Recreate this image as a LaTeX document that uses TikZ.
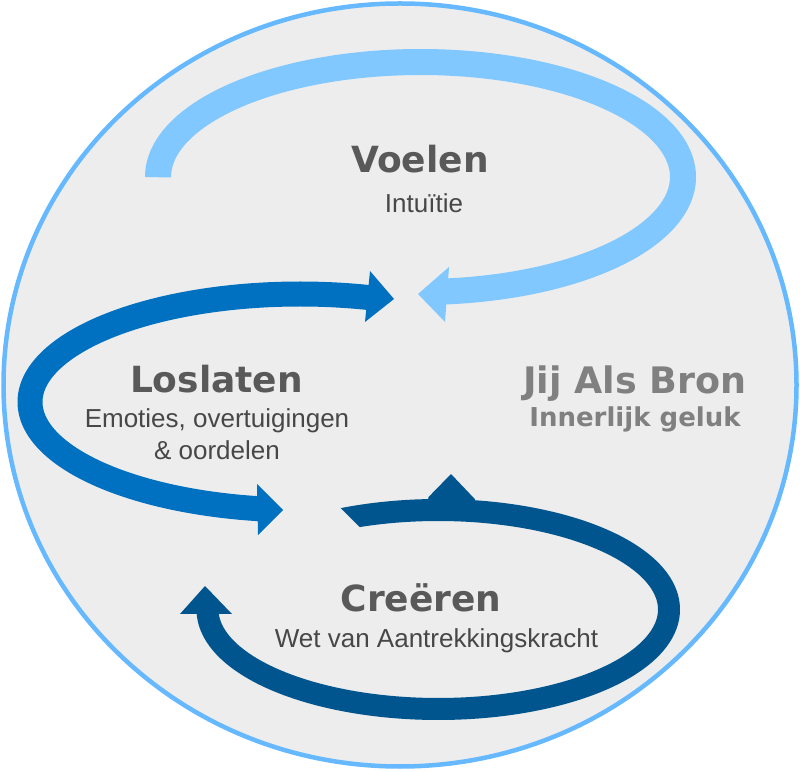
\documentclass[tikz,border=0pt]{standalone}
\usepackage{fontspec}
\setmainfont{Liberation Sans}
\newfontfamily\headfont{DejaVu Sans}
\definecolor{ringc}{HTML}{66B8FF}
\definecolor{fillc}{HTML}{EDEDED}
\definecolor{lightc}{HTML}{80C8FF}
\definecolor{midc}{HTML}{0070C0}
\definecolor{darkc}{HTML}{00558F}
\definecolor{headc}{HTML}{595959}
\definecolor{subc}{HTML}{474747}
\definecolor{srcc}{HTML}{808080}
\tikzset{
  headtext/.style={anchor=base, inner sep=0pt, text=headc, font=\headfont\bfseries\fontsize{36}{40}\selectfont},
  subtext/.style={anchor=base, inner sep=0pt, text=subc, font=\fontsize{26}{30}\selectfont},
  srctext/.style={anchor=base, inner sep=0pt, text=srcc, font=\headfont\bfseries\fontsize{36.5}{40}\selectfont},
  srcsub/.style={anchor=base, inner sep=0pt, text=srcc, font=\headfont\bfseries\fontsize{26}{30}\selectfont},
  lightshaft/.style={lightc, line width=26pt},
  midshaft/.style={midc, line width=25pt},
  darkshaft/.style={darkc, line width=22pt}
}
\begin{document}
\begin{tikzpicture}[x=1pt,y=1pt]
\useasboundingbox (0,0) rectangle (800,771);
% outer ring
\draw[ringc, line width=4.5pt, fill=fillc] (400,386) ellipse [x radius=396.5pt, y radius=381.5pt];

% light blue arrow (Voelen)
\draw[lightshaft] (158,598) -- plot[domain=180:-86.5, samples=160, variable=\t] ({420.5+262.5*cos(\t)},{594+115*sin(\t)});
\fill[lightc] (418,477) -- (449,504) -- (445,449) -- cycle;

% medium blue double arrow (Loslaten)
\draw[midshaft] plot[domain=74.5:262, samples=160, variable=\t] ({300+270*cos(\t)},{369+108*sin(\t)});
\fill[midc] (394,472) -- (370,500) -- (365,449) -- cycle;
\fill[midc] (283,261) -- (257,287) -- (258,236) -- cycle;

% dark blue arrow (Creeren)
\begin{scope}[even odd rule]
\clip (0,0) rectangle (800,771) (330.9,272.9) -- (369.3,234.2) -- (330,200) -- (280,280) -- cycle;
\draw[darkshaft] plot[domain=118:-178.5, samples=200, variable=\t] ({438.25+230.75*cos(\t)},{161.5+99.5*sin(\t)});
\end{scope}
\fill[darkc] (205,185) -- (180,157) -- (232,157) -- cycle;
\fill[darkc] (428,266) -- (428.3,273.7) -- (451,297) -- (475,271.7) -- (475,266) -- cycle;

% texts
\node[headtext] (voelen) at (420,598) {Voelen};
\node[subtext] (intuitie) at (424,558) {Intuïtie};
\node[headtext] (loslaten) at (216.5,378) {Loslaten};
\node[subtext] (emoties) at (217,343) {Emoties, overtuigingen};
\node[subtext] (oordelen) at (217,311) {\& oordelen};
\node[srctext] (bron) at (635,377) {Jij Als Bron};
\node[srcsub] (geluk) at (635,344) {Innerlijk geluk};
\node[headtext] (creeren) at (421,159) {Creëren};
\node[subtext] (wet) at (436.5,123) {Wet van Aantrekkingskracht};
\end{tikzpicture}
\end{document}
